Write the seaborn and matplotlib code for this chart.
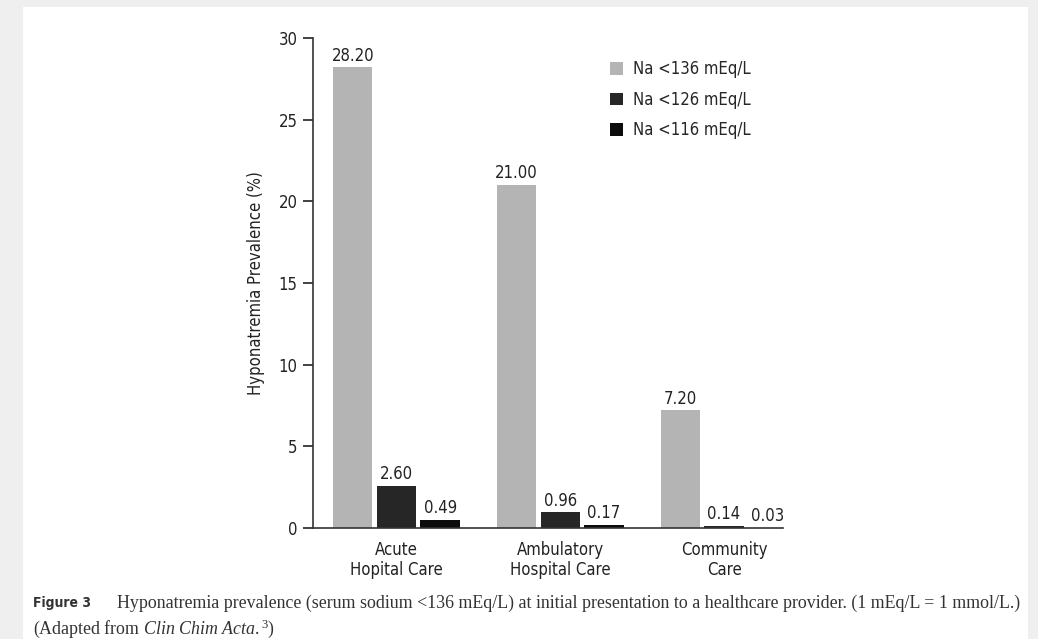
import matplotlib
matplotlib.use("Agg")
import matplotlib.pyplot as plt
import pandas as pd
import seaborn as sns
from matplotlib.patches import Rectangle

# data
settings = ["Acute\nHopital Care", "Ambulatory\nHospital Care", "Community\nCare"]
na_136 = [28.20, 21.00, 7.20]
na_126 = [2.60, 0.96, 0.14]
na_116 = [0.49, 0.17, 0.03]
series_names = ["Na <136 mEq/L", "Na <126 mEq/L", "Na <116 mEq/L"]
bar_colors = ["#b4b4b4", "#262626", "#0c0c0c"]

df = pd.DataFrame({
    "setting": settings * 3,
    "prevalence": na_136 + na_126 + na_116,
    "threshold": [s for s in series_names for _ in settings],
})

sns.set_style("ticks")
plt.rcParams["font.family"] = ["Liberation Sans Narrow", "DejaVu Sans"]
plt.rcParams["font.stretch"] = "condensed"
plt.rcParams["mathtext.fontset"] = "custom"
plt.rcParams["mathtext.rm"] = "Liberation Serif"
plt.rcParams["mathtext.it"] = "Liberation Serif:italic"

fig = plt.figure(figsize=(10.38, 6.39), dpi=100, facecolor="#efefef")
# white page area inside the grey frame
fig.patches.append(Rectangle((23 / 1038, 0), 1005 / 1038, 1 - 7 / 639,
                             transform=fig.transFigure, facecolor="white",
                             edgecolor="none", zorder=-5))

ax = fig.add_axes([0.3015, 0.1737, 0.4528, 0.7668])
ax.set_facecolor("none")
ax.set_zorder(2)

sns.barplot(data=df, x="setting", y="prevalence", hue="threshold",
            hue_order=series_names, palette=bar_colors, width=0.8, gap=0.1,
            saturation=1, ax=ax, edgecolor="none")

for cont in ax.containers:
    ax.bar_label(cont, fmt="%.2f", padding=2, fontsize=12, color="#222222")

ax.set_ylim(0, 30)
ax.set_xlim(-0.51, 2.36)
ax.set_yticks([0, 5, 10, 15, 20, 25, 30])
ax.tick_params(axis="y", length=7, width=1.2, labelsize=12, colors="#222222", pad=4)
ax.tick_params(axis="x", length=0, labelsize=12, colors="#222222", pad=9)
ax.set_xlabel("")
ax.set_ylabel("Hyponatremia Prevalence (%)", fontsize=12, color="#222222", labelpad=10)
for side in ["top", "right"]:
    ax.spines[side].set_visible(False)
for side in ["left", "bottom"]:
    ax.spines[side].set_linewidth(1.2)
    ax.spines[side].set_color("#333333")

ax.legend(loc="upper left", bbox_to_anchor=(0.6, 0.985), frameon=False,
          fontsize=12, handlelength=0.8, handleheight=0.8,
          handletextpad=0.6, labelspacing=0.75)

# caption below the chart
fig.text(33 / 1038, 1 - 603 / 639, "Figure 3", fontsize=10, fontweight="bold",
         color="#333333", va="center")
fig.text(117 / 1038, 1 - 603 / 639,
         "Hyponatremia prevalence (serum sodium <136 mEq/L) at initial presentation "
         "to a healthcare provider. (1 mEq/L = 1 mmol/L.)",
         fontsize=12.85, color="#333333", va="center", family="Liberation Serif",
         stretch="normal")
fig.text(33 / 1038, 1 - 629 / 639,
         r"(Adapted from $\it{Clin\ Chim\ Acta.}^{3}$)",
         fontsize=12.85, color="#333333", va="center", family="Liberation Serif",
         stretch="normal")

fig.savefig("out.png", dpi=100, facecolor=fig.get_facecolor())
